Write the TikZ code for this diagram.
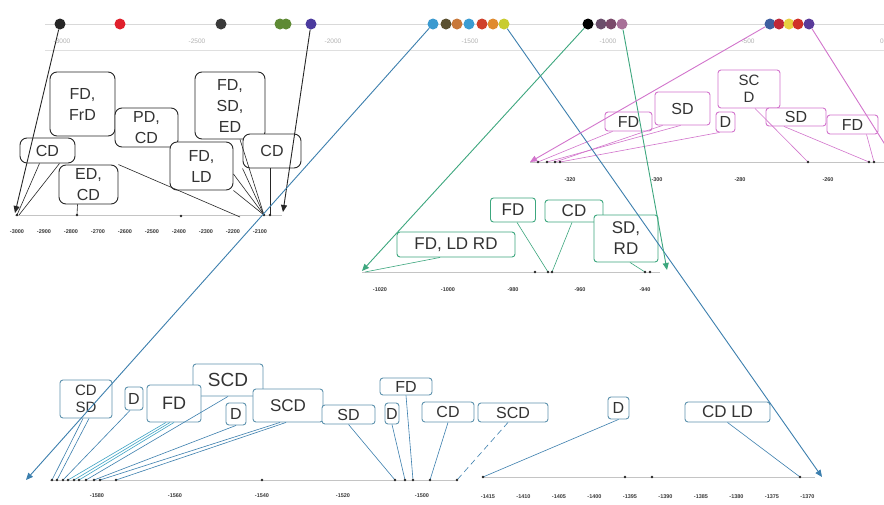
\documentclass[tikz,border=0pt]{standalone}
\usepackage{fontspec}
\setmainfont{Liberation Sans}
\usetikzlibrary{arrows.meta}
\definecolor{cblk}{HTML}{262626}
\definecolor{cblue}{HTML}{3C7FAE}
\definecolor{cbbox}{HTML}{5E93AE}
\definecolor{cteal}{HTML}{3FA3C4}
\definecolor{cgreen}{HTML}{3DA77E}
\definecolor{cpink}{HTML}{D274CC}
\definecolor{caxis}{HTML}{C4C4C4}
\definecolor{ctick}{HTML}{3A3A3A}
\definecolor{dk2}{HTML}{E0202C}
\definecolor{dk3}{HTML}{3A3A3A}
\definecolor{dk4}{HTML}{5E8A34}
\definecolor{dk5}{HTML}{4B3A9E}
\definecolor{db1}{HTML}{3B9AD0}
\definecolor{db2}{HTML}{5A5030}
\definecolor{db3}{HTML}{C8783A}
\definecolor{db4}{HTML}{3B9CD2}
\definecolor{db5}{HTML}{D0402A}
\definecolor{db6}{HTML}{E08A2E}
\definecolor{db7}{HTML}{C8CC30}
\definecolor{dg2}{HTML}{6B4E6B}
\definecolor{dg3}{HTML}{7A4A6A}
\definecolor{dg4}{HTML}{A87098}
\definecolor{dp1}{HTML}{3F5FA0}
\definecolor{dp2}{HTML}{C02838}
\definecolor{dp3}{HTML}{E8D040}
\definecolor{dp4}{HTML}{D03028}
\definecolor{dp5}{HTML}{5A3A9A}
\begin{document}
\begin{tikzpicture}[x=1pt,y=-1pt,
  bx/.style={draw, fill=white, rounded corners=3pt, inner sep=0pt, align=center, line width=0.9pt, text=black!80},
  bxk/.style={bx, draw=cblk, rounded corners=7pt, font=\fontsize{16}{21}\selectfont},
  bxg/.style={bx, draw=cgreen, font=\fontsize{17}{21}\selectfont},
  bxp/.style={bx, draw=cpink, font=\fontsize{16}{19}\selectfont},
  bxb/.style={bx, draw=cbbox, font=\fontsize{16}{19}\selectfont},
  wh/.style 2 args={minimum width=#1pt, minimum height=#2pt},
  dotn/.style={circle, inner sep=0pt, minimum size=11pt, fill=#1},
  tl/.style={font=\fontsize{5.5}{6}\selectfont\bfseries, text=ctick, inner sep=0pt},
  topl/.style={font=\fontsize{6.5}{7}\selectfont, text=gray!60, inner sep=0pt},
  cnk/.style={cblk, line width=0.6pt},
  cng/.style={cgreen, line width=0.6pt},
  cnp/.style={cpink, line width=0.6pt},
  cnb/.style={cblue, line width=0.6pt},
  cnt/.style={cteal, line width=0.6pt},
  zl/.style={line width=0.9pt, -{Triangle[length=7pt,width=6pt]}},
  axl/.style={caxis, line width=0.8pt}
]
\useasboundingbox (0,0) rectangle (884,504);
\fill[white] (0,0) rectangle (884,504);

% ---------- top axis ----------
\draw[gray!30, line width=1pt] (45,24) -- (884,24);
\draw[gray!25, line width=0.8pt] (45,50) -- (884,50);
\foreach \v/\x [count=\i] in {-3000/62,-2500/197,-2000/333,-1500/470,-1000/608,-500/748,0/882}
  \node[topl] (tl\i) at (\x,41) {\v};

% ---------- panel axes ----------
\draw[axl] (15,215) -- (282,215);
\draw[axl] (362,272) -- (660,272);
\draw[axl] (530,162) -- (884,162);
\draw[axl] (50,480) -- (457,480);
\draw[axl] (482,477) -- (815,477);

% tick labels
\foreach \v [count=\i] in {-3000,-2900,-2800,-2700,-2600,-2500,-2400,-2300,-2200,-2100}
  \node[tl] (kt\i) at ({17+27*(\i-1)},232) {\v};
\foreach \v/\x [count=\i] in {-1020/380,-1000/448,-980/513,-960/580,-940/645}
  \node[tl] (gt\i) at (\x,290) {\v};
\foreach \v/\x [count=\i] in {-320/570,-300/657,-280/740,-260/828}
  \node[tl] (pt\i) at (\x,180) {\v};
\foreach \v/\x [count=\i] in {-1580/97,-1560/175,-1540/262,-1520/343,-1500/422}
  \node[tl] (bt\i) at (\x,496) {\v};
\foreach \v [count=\i] in {-1415,-1410,-1405,-1400,-1395,-1390,-1385,-1380,-1375,-1370}
  \node[tl] (rt\i) at ({488+35.5*(\i-1)},497) {\v};

% ---------- axis coordinates ----------
\coordinate (ka) at (15,213);  \coordinate (kb) at (283,212);
\coordinate (ax1) at (17,215); \coordinate (ax2) at (19,215); \coordinate (ax3) at (77,215);
\coordinate (ax4) at (181,216); \coordinate (ax5) at (240,217); \coordinate (ax6) at (264,215);
\coordinate (ax7) at (270,215);
\coordinate (ga) at (362,271); \coordinate (gb) at (667,270);
\coordinate (ga1) at (365,272); \coordinate (ga2) at (535,272); \coordinate (ga3) at (548,272);
\coordinate (ga4) at (552,272); \coordinate (ga5) at (645,272); \coordinate (ga6) at (650,272);
\coordinate (pa) at (530,162); \coordinate (pb) at (896,162);
\coordinate (pa1) at (538,162); \coordinate (pa2) at (547,162); \coordinate (pa3) at (555,162);
\coordinate (pa4) at (560,162); \coordinate (pa5) at (808,162); \coordinate (pa6) at (869,162);
\coordinate (pa7) at (874,162);
\coordinate (ba) at (26,480); \coordinate (bb) at (822,477);
\coordinate (bl1) at (52,480); \coordinate (bl2) at (57,480); \coordinate (bl3) at (63,480);
\coordinate (bl4) at (68,480); \coordinate (bl5) at (74,480); \coordinate (bl6) at (79,480);
\coordinate (bl7) at (86,480); \coordinate (bl8) at (94,480); \coordinate (bl9) at (100,480);
\coordinate (bl10) at (116,480); \coordinate (bl11) at (262,480); \coordinate (bl12) at (395,480);
\coordinate (bl13) at (405,480); \coordinate (bl14) at (413,480); \coordinate (bl15) at (430,480);
\coordinate (bl16) at (457,480);
\coordinate (br1) at (483,477); \coordinate (br2) at (625,477); \coordinate (br3) at (652,477);
\coordinate (br4) at (800,477);

% ---------- black panel boxes ----------
\node[bxk, wh={55}{25}] (cdL) at (47.5,150.5) {CD};
\node[bxk, wh={65}{64}] (fdfrd) at (82.5,104) {FD,\\FrD};
\node[bxk, wh={59}{39}] (edcd) at (88.5,184.5) {ED,\\CD};
\node[bxk, wh={63}{39}] (pdcd) at (146.5,127.5) {PD,\\CD};
\node[bxk, wh={70}{67}] (fdsded) at (230,105.5) {FD,\\SD,\\ED};
\node[bxk, wh={63}{48}] (fdld) at (201.5,166) {FD,\\LD};
\node[bxk, wh={58}{34}] (cdR) at (272,151) {CD};

% black connectors
\draw[cnk] ([xshift=-8pt]cdL.south) -- (ax1);
\draw[cnk] ([xshift=12pt]cdL.south) -- (ax2);
\draw[cnk] ([xshift=-11pt]edcd.south) -- (ax3);
\draw[cnk] (edcd.north east) -- (ax5);
\draw[cnk] (fdld.south east) -- (ax6);
\draw[cnk] ([yshift=-8pt]fdld.east) -- (ax6);
\draw[cnk] ([xshift=10pt]fdsded.south) -- (ax6);
\draw[cnk] ([xshift=-2pt]cdR.south) -- (ax7);
\draw[cnk] (cdR.south west) -- (ax6);

% ---------- green panel ----------
\node[bxg, wh={118}{25}] (fdldrd) at (456,244.5) {FD, LD RD};
\node[bxg, wh={45}{24}] (gfd) at (513,210) {FD};
\node[bxg, wh={58}{22}] (gcd) at (574,211) {CD};
\node[bxg, wh={64}{47}] (gsdrd) at (626,238.5) {SD,\\RD};
\draw[cng] ([xshift=-16pt]fdldrd.south) -- (ga1);
\draw[cng] ([xshift=4pt]gfd.south) -- (ga3);
\draw[cng] ([xshift=-2pt]gcd.south) -- (ga4);
\draw[cng] ([xshift=4pt]gsdrd.south) -- (ga5);

% ---------- pink panel ----------
\node[bxp, wh={47}{19}] (pfd1) at (628.5,121.5) {FD};
\node[bxp, wh={55}{33}] (psd1) at (682.5,108.5) {SD};
\node[bxp, wh={19}{20}] (pd) at (725.5,122) {D};
\node[bxp, wh={62}{38}, font=\fontsize{15}{17}\selectfont] (pscd) at (749,89) {SC\\D};
\node[bxp, wh={60}{18}] (psd2) at (796,117) {SD};
\node[bxp, wh={51}{19}] (pfd2) at (852.5,124.5) {FD};
\draw[cnp] ([xshift=-16pt]pfd1.south) -- (pa1);
\draw[cnp] ([xshift=-2pt]psd1.south) -- (pa2);
\draw[cnp] ([xshift=-20pt]psd1.south) -- (pa3);
\draw[cnp] ([xshift=-6pt]pd.south) -- (pa4);
\draw[cnp] ([xshift=6pt]pscd.south) -- (pa5);
\draw[cnp] ([xshift=-12pt]psd2.south) -- (pa6);
\draw[cnp] ([xshift=14pt]pfd2.south) -- (pa7);

% ---------- blue panel ----------
\node[bxb, wh={52}{38}, font=\fontsize{15}{17}\selectfont] (bcdsd) at (86,399) {CD\\SD};
\node[bxb, wh={18}{23}] (bd1) at (134,398.5) {D};
\node[bxb, wh={70}{32}, font=\fontsize{19}{21}\selectfont] (bscd1) at (228,380) {SCD};
\node[bxb, wh={54}{37}, font=\fontsize{18}{20}\selectfont] (bfd) at (174,403.5) {FD};
\node[bxb, wh={20}{22}] (bd2) at (236,414) {D};
\node[bxb, wh={70}{33}, font=\fontsize{17}{19}\selectfont] (bscd2) at (288,405.5) {SCD};
\node[bxb, wh={53}{19}] (bsd) at (348.5,414.5) {SD};
\node[bxb, wh={14}{21}] (bd3) at (392,413.5) {D};
\node[bxb, wh={52}{17}] (bfd2) at (406,386.5) {FD};
\node[bxb, wh={52}{20}] (bcd) at (448,412) {CD};
\node[bxb, wh={70}{19}] (bscd3) at (513,412.5) {SCD};
\node[bxb, wh={21}{22}] (bd4) at (618.5,408) {D};
\node[bxb, wh={85}{20}, font=\fontsize{17}{19}\selectfont] (bcdld) at (727.5,412) {CD LD};

\draw[cnb] ([xshift=-3pt]bcdsd.south) -- (bl1);
\draw[cnb] ([xshift=3pt]bcdsd.south) -- (bl2);
\draw[cnb] ([xshift=-4pt]bd1.south) -- (bl3);
\draw[cnt] ([xshift=-8pt]bfd.south) -- (bl4);
\draw[cnt] ([xshift=-4pt]bfd.south) -- (bl5);
\draw[cnt] (bfd.south) -- (bl6);
\draw[cnb] (bscd1.south) -- (bl7);
\draw[cnb] (bd2.south) -- (bl8);
\draw[cnb] ([xshift=-8pt]bscd2.south) -- (bl9);
\draw[cnb] ([xshift=-2pt]bscd2.south) -- (bl10);
\draw[cnb] (bsd.south) -- (bl12);
\draw[cnb] (bd3.south) -- (bl13);
\draw[cnb] (bfd2.south) -- (bl14);
\draw[cnb] (bcd.south) -- (bl15);
\draw[cnb, dash pattern=on 6pt off 4pt] ([xshift=-5pt]bscd3.south) -- (bl16);
\draw[cnb] (bd4.south) -- (br1);
\draw[cnb] (bcdld.south) -- (br4);

% ---------- axis dots ----------
\foreach \p in {ax1,ax3,ax4,ax6,ax7,ga2,ga3,ga4,ga5,ga6,pa1,pa2,pa3,pa4,pa5,pa6,pa7,
  bl1,bl2,bl3,bl4,bl5,bl6,bl7,bl8,bl9,bl10,bl11,bl12,bl13,bl14,bl15,bl16,br1,br2,br3,br4}
  \fill[cblk] (\p) circle (1.3pt);

% ---------- top dots ----------
\node[dotn=cblk] (k1) at (60,24) {};
\node[dotn=dk2] (k2) at (120,24) {};
\node[dotn=dk3] (k3) at (221,24) {};
\node[dotn=dk4] (k4a) at (280,24) {};
\node[dotn=dk4] (k4) at (286,24) {};
\node[dotn=dk5] (k5) at (311,24) {};
\node[dotn=db1] (b1) at (433,24) {};
\node[dotn=db2] (b2) at (446,24) {};
\node[dotn=db3] (b3) at (457,24) {};
\node[dotn=db4] (b4) at (469,24) {};
\node[dotn=db5] (b5) at (482,24) {};
\node[dotn=db6] (b6) at (493,24) {};
\node[dotn=db7] (b7) at (504,24) {};
\node[dotn=black] (g1) at (588,24) {};
\node[dotn=dg2] (g2) at (601,24) {};
\node[dotn=dg3] (g3) at (611,24) {};
\node[dotn=dg4] (g4) at (622,24) {};
\node[dotn=dp1] (p1) at (770,24) {};
\node[dotn=dp2] (p2) at (779,24) {};
\node[dotn=dp3] (p3) at (789,24) {};
\node[dotn=dp4] (p4) at (798,24) {};
\node[dotn=dp5] (p5) at (809,24) {};

% ---------- zoom lines ----------
\draw[zl, cblk] (k1) -- (ka);
\draw[zl, cblk] (k5) -- (kb);
\draw[zl, cblue] (b1) -- (ba);
\draw[zl, cblue] (b7) -- (bb);
\draw[zl, cgreen] (g1) -- (ga);
\draw[zl, cgreen] (g4) -- (gb);
\draw[zl, cpink] (p1) -- (pa);
\draw[zl, cpink] (p5) -- (pb);
\end{tikzpicture}
\end{document}
